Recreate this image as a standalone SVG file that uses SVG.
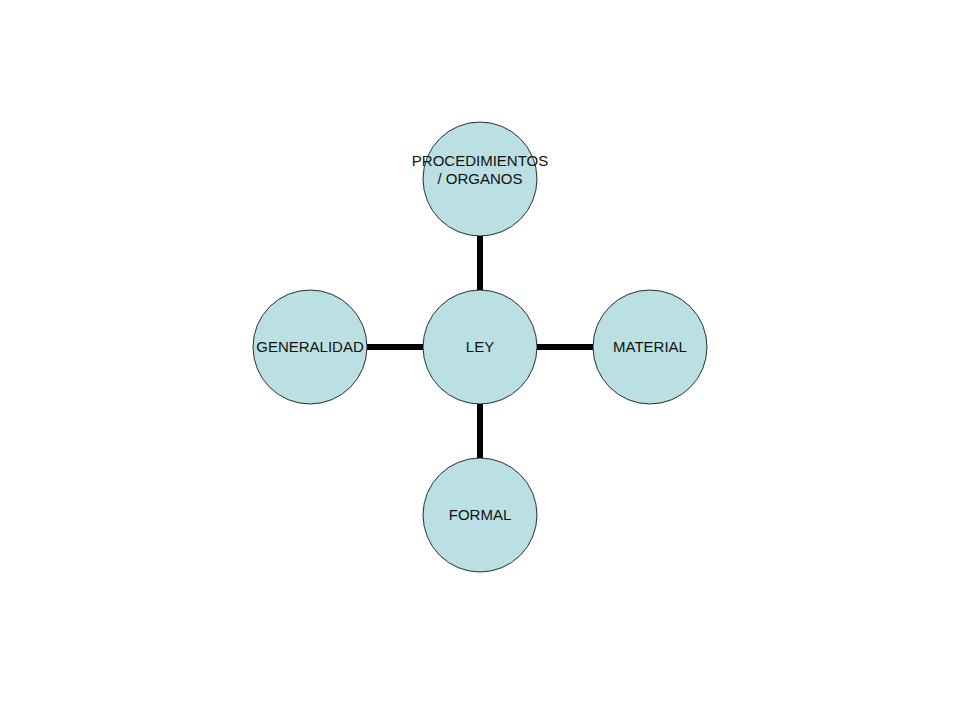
<svg xmlns="http://www.w3.org/2000/svg" width="960" height="720" viewBox="0 0 960 720">
<style>
.n{fill:#BBE0E3;stroke:#000;stroke-width:0.8}
.t{font-family:"Liberation Sans",Arial,sans-serif;font-size:15px;fill:#111;text-anchor:middle}
.c{stroke:#000;stroke-width:6;fill:none}
</style>
<rect width="960" height="720" fill="#fff"/>
<g id="connectors">
<line class="c" x1="480" y1="236" x2="480" y2="290"/>
<line class="c" x1="367" y1="347" x2="423" y2="347"/>
<line class="c" x1="537" y1="347" x2="593" y2="347"/>
<line class="c" x1="480" y1="404" x2="480" y2="458"/>
</g>
<g id="ley"><circle class="n" cx="480" cy="347" r="57"/><text class="t" x="480" y="352">LEY</text></g>
<g id="procedimientos"><circle class="n" cx="480" cy="179" r="57"/><text class="t" x="480" y="166">PROCEDIMIENTOS</text><text class="t" x="480" y="184">/ ORGANOS</text></g>
<g id="generalidad"><circle class="n" cx="310" cy="347" r="57"/><text class="t" x="310" y="352">GENERALIDAD</text></g>
<g id="material"><circle class="n" cx="650" cy="347" r="57"/><text class="t" x="650" y="352">MATERIAL</text></g>
<g id="formal"><circle class="n" cx="480" cy="515" r="57"/><text class="t" x="480" y="520">FORMAL</text></g>
</svg>
